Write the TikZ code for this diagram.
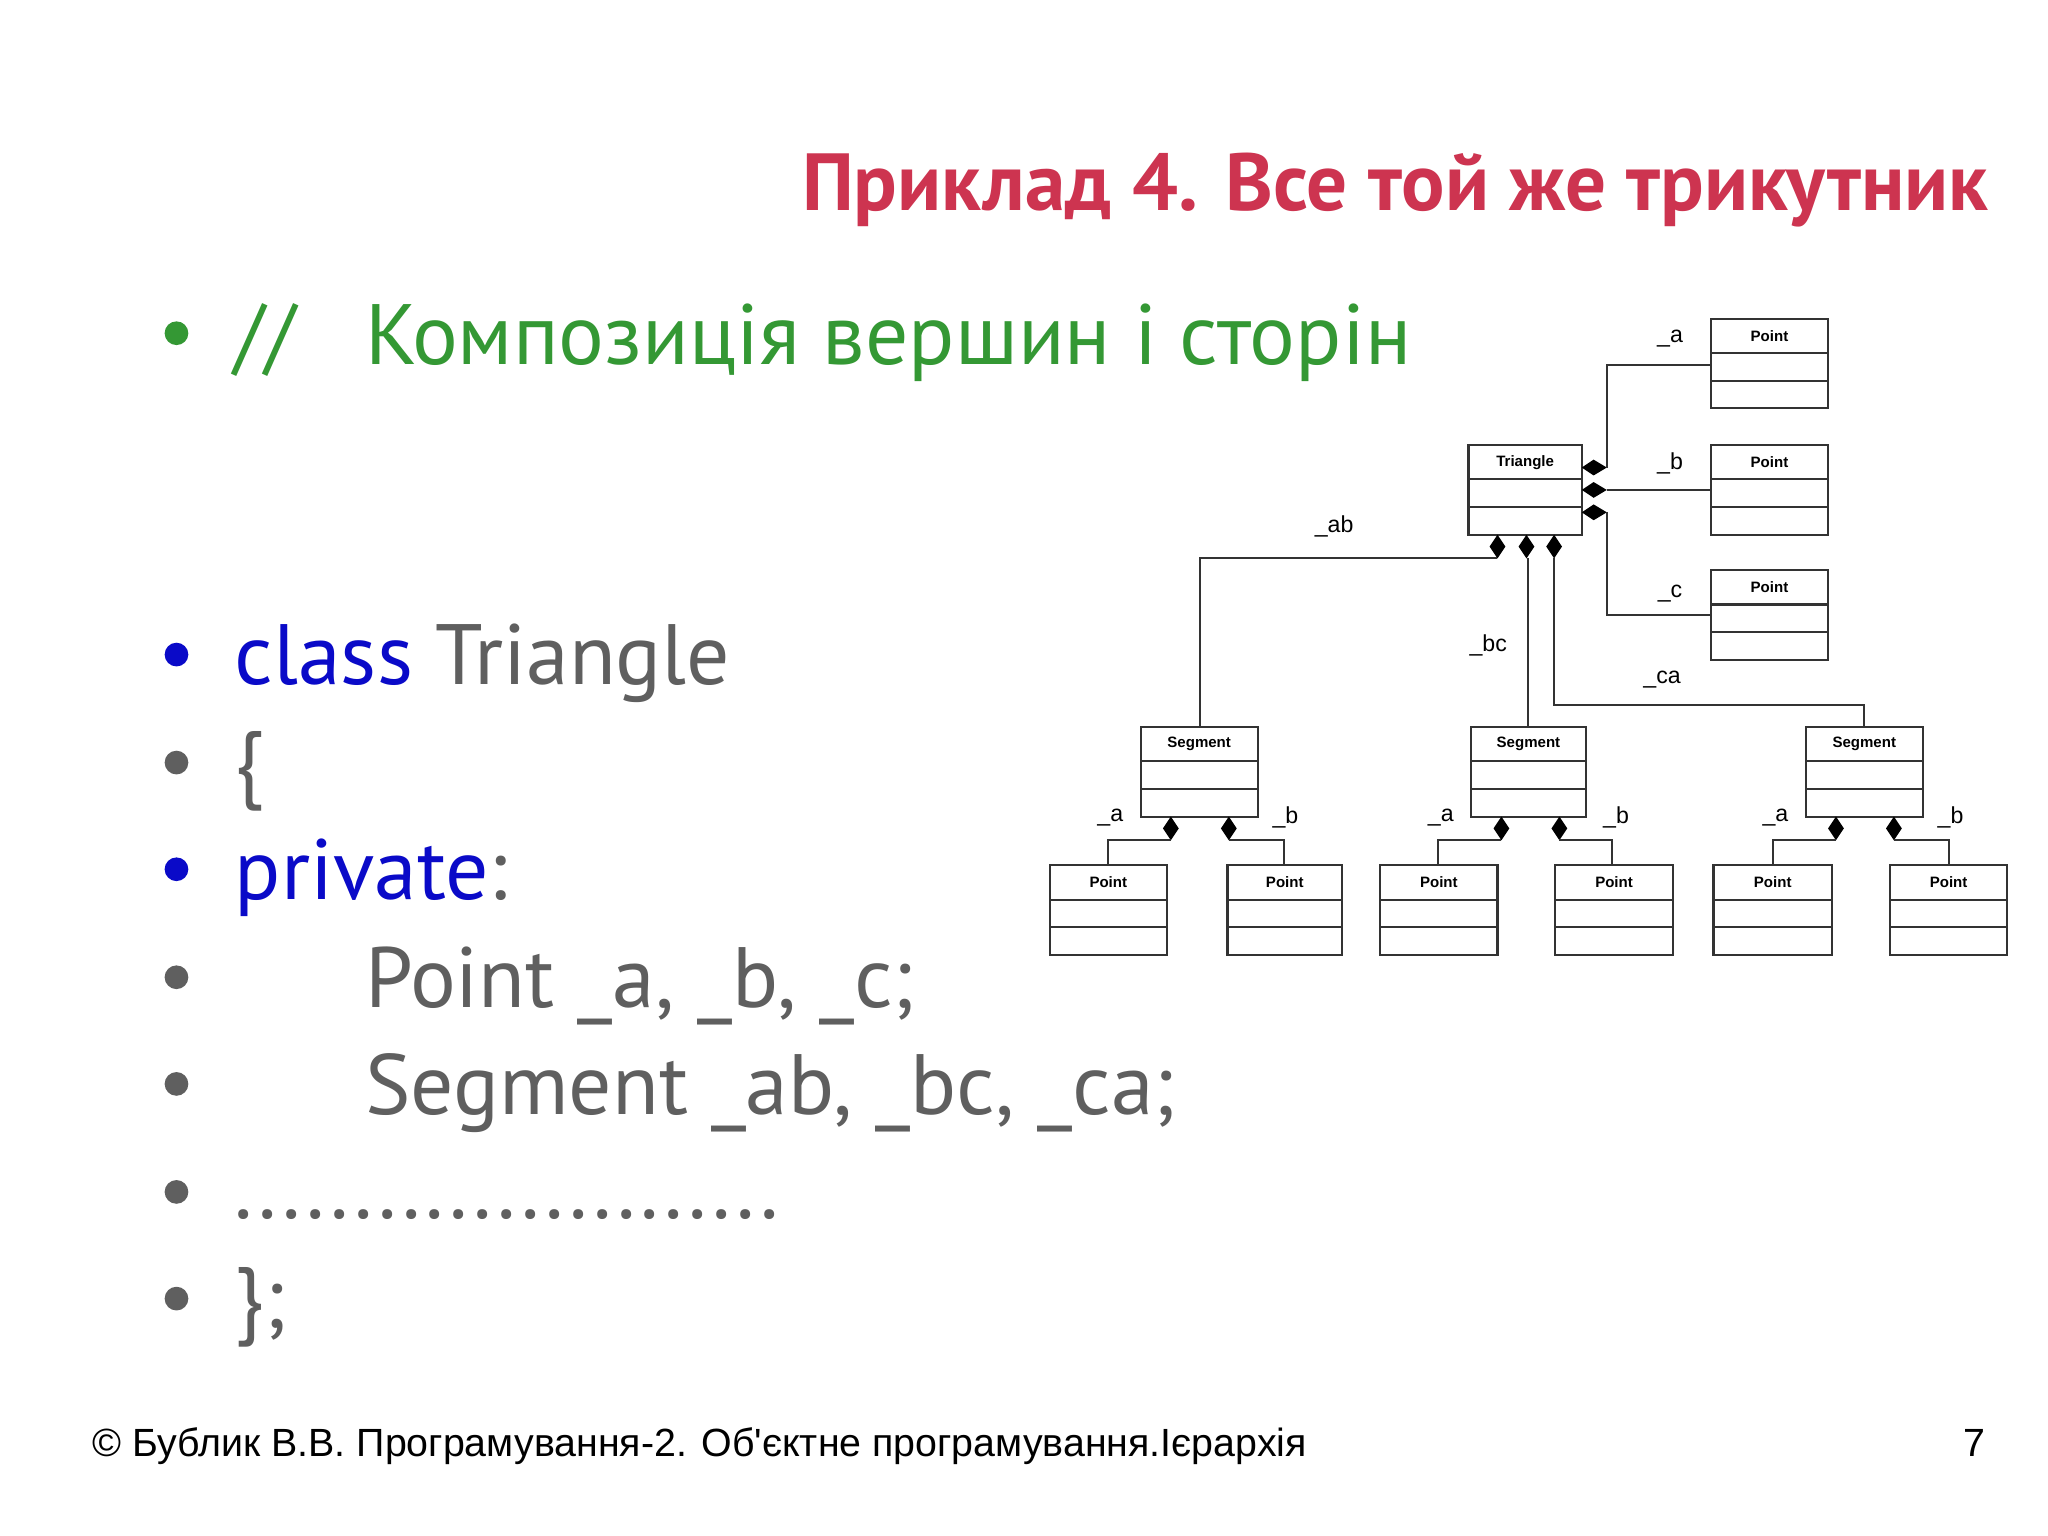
\documentclass[tikz,border=0pt]{standalone}
\usepackage{fontspec}
\setmainfont{PT Sans}
\newfontfamily\arialf{Liberation Sans}
\definecolor{tred}{RGB}{205,52,80}
\definecolor{tgreen}{RGB}{52,152,52}
\definecolor{tblue}{RGB}{10,10,200}
\definecolor{tgrey}{RGB}{95,95,95}
\begin{document}
\begin{tikzpicture}[x=0.02cm,y=-0.02cm,
  body/.style={anchor=base west,inner sep=0,font=\fontsize{37}{37}\selectfont},
  bul/.style={circle,fill=#1,inner sep=0,minimum size=0.36cm},
  umlname/.style={font=\arialf\bfseries\fontsize{6.5}{7}\selectfont,inner sep=0},
  rl/.style={font=\arialf\fontsize{10}{10}\selectfont,inner sep=0},
  ln/.style={line width=0.9pt,black!80},
  dia/.style={fill=black}]
\useasboundingbox (0,0) rectangle (1555,1166.25);
\fill[white] (0,0) rectangle (1555,1166.25);
% title
\node[anchor=base east,inner sep=0,text=tred,font=\bfseries\fontsize{35}{35}\selectfont] (title) at (1510,160) {Приклад 4. Все той же трикутник};
% bullets and text
\foreach \y/\c [count=\i] in {253/tgreen,497/tblue,579/tgrey,660/tblue,742/tgrey,823/tgrey,905/tgrey,986/tgrey}
  \node[bul=\c] (b\i) at (134,\y) {};
\node[body,text=tgreen] (t1a) at (178,277) {//};
\node[body,text=tgreen] (t1b) at (277,277) {Композиція вершин і сторін};
\node[body] (t2) at (178,520) {\textcolor{tblue}{class} \textcolor{tgrey}{Triangle}};
\node[body,text=tgrey] (t3) at (178,601) {\{};
\node[body] (t4) at (178,683) {\textcolor{tblue}{private}\textcolor{tgrey}{:}};
\node[body,text=tgrey] (t5) at (277,765) {Point \_a, \_b, \_c;};
\node[body,text=tgrey] (t6) at (277,846) {Segment \_ab, \_bc, \_ca;};
\node[body,text=tgrey] (t7) at (178,925) {.......................};
\node[body,text=tgrey] (t8) at (178,1008) {\};};
% footer
\node[anchor=base west,inner sep=0,font=\arialf\fontsize{17}{17}\selectfont] (foot) at (70,1106) {© Бублик В.В. Програмування-2. Об'єктне програмування.Ієрархія};
\node[anchor=base east,inner sep=0,font=\arialf\fontsize{17}{17}\selectfont] (pg) at (1508,1106) {7};
% UML boxes
\newcommand{\umlbox}[5]{%
  \draw[ln] (#2,#4) rectangle (#3,#4+68);
  \draw[ln] (#2,#4+26) -- (#3,#4+26);
  \draw[ln] (#2,#4+47) -- (#3,#4+47);
  \node[umlname] (#1) at ({(#2+#3)/2},#4+13) {#5};
}
\umlbox{pa}{1299}{1388}{242}{Point}
\umlbox{pb}{1299}{1388}{338}{Point}
\umlbox{pc}{1299}{1388}{433}{Point}
\umlbox{tri}{1115}{1201}{338}{Triangle}
\umlbox{s1}{866}{955}{552}{Segment}
\umlbox{s2}{1117}{1204}{552}{Segment}
\umlbox{s3}{1371}{1460}{552}{Segment}
\umlbox{q1}{797}{886}{657}{Point}
\umlbox{q2}{932}{1019}{657}{Point}
\umlbox{q3}{1048}{1137}{657}{Point}
\umlbox{q4}{1181}{1270}{657}{Point}
\umlbox{q5}{1301}{1391}{657}{Point}
\umlbox{q6}{1435}{1524}{657}{Point}
% diamonds
\newcommand{\hdia}[2]{\fill (#1,#2) -- (#1+9,#2-6) -- (#1+19,#2) -- (#1+9,#2+6) -- cycle;}
\newcommand{\vdia}[2]{\fill (#1,#2) -- (#1+6,#2+9) -- (#1,#2+18) -- (#1-6,#2+9) -- cycle;}
\hdia{1201}{355}\hdia{1201}{372}\hdia{1201}{389}
\vdia{1137}{406}\vdia{1159}{406}\vdia{1180}{406}
\coordinate (ja) at (1220,355); \coordinate (jc) at (1220,389);
\draw[ln] (ja) |- (1299,277);
\draw[ln] (1220,372) -- (1299,372);
\draw[ln] (jc) |- (1299,467);
\draw[ln] (1137,424) -| (911,552);
\draw[ln] (1160,424) -- (1160,552);
\draw[ln] (1180,424) |- (1415,535) -- (1415,552);
\node[rl] (lab) at (1013,400) {\_ab};
\node[rl] (lbc) at (1130,490) {\_bc};
\node[rl] (lca) at (1262,516) {\_ca};
\node[rl] (la) at (1268,257) {\_a};
\node[rl] (lb) at (1268,352) {\_b};
\node[rl] (lc) at (1268,451) {\_c};
\foreach \sx/\ax/\bx in {866/841/975,1117/1092/1224,1371/1346/1480}{
  \vdia{\sx+23}{620}\vdia{\sx+67}{620}
  \draw[ln] (\sx+23,638) -| (\ax,657);
  \draw[ln] (\sx+67,638) -| (\bx,657);
  \node[rl] at (\sx-23,621) {\_a};
  \node[rl] at (\sx+110,621) {\_b};
}
\end{tikzpicture}
\end{document}
